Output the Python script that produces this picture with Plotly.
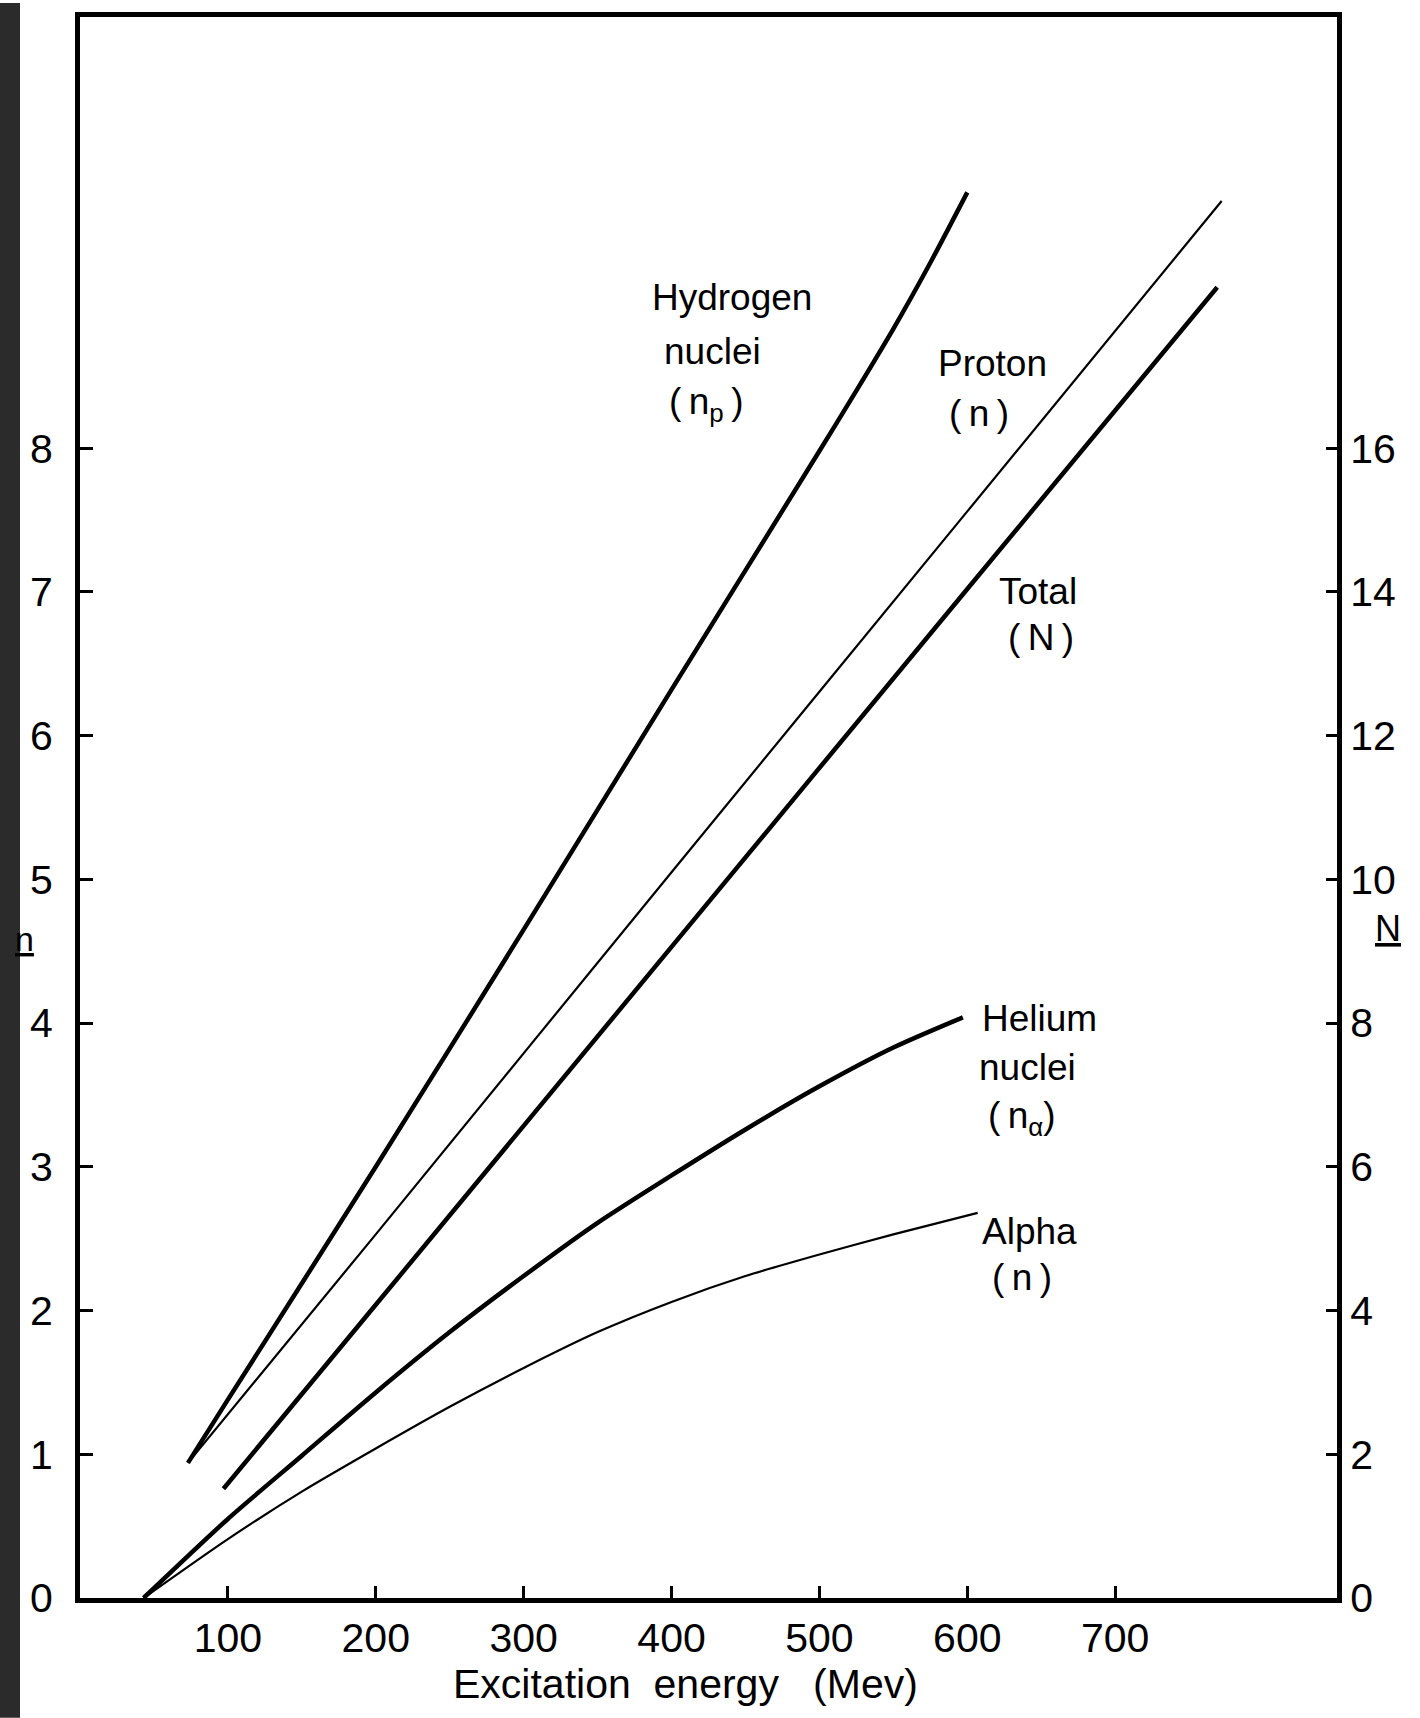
import plotly.graph_objects as go

# ---------------- data ----------------
# Excitation energy (MeV) and multiplicities
hydrogen_e = [73, 100, 200, 300, 400, 500, 525, 550, 575, 600]
hydrogen_n = [0.94, 1.38, 3.0, 4.65, 6.32, 7.98, 8.40, 8.83, 9.29, 9.78]

proton_e = [73, 200, 400, 600, 772]
proton_n = [0.94, 2.53, 5.05, 7.56, 9.72]

total_e = [97, 200, 400, 600, 769]
total_N = [1.52, 4.08, 9.06, 14.04, 18.24]   # read on the right-hand N axis

helium_e = [43, 100, 150, 200, 250, 300, 350, 400, 450, 500, 550, 597]
helium_n = [0.0, 0.55, 0.99, 1.43, 1.85, 2.24, 2.61, 2.94, 3.26, 3.56, 3.83, 4.04]

alpha_e = [43, 100, 150, 200, 250, 300, 350, 400, 450, 500, 550, 607]
alpha_n = [0.0, 0.41, 0.74, 1.04, 1.33, 1.60, 1.85, 2.06, 2.24, 2.39, 2.53, 2.68]

x_ticks = [100, 200, 300, 400, 500, 600, 700]
n_ticks = [0, 1, 2, 3, 4, 5, 6, 7, 8]
N_ticks = [0, 2, 4, 6, 8, 10, 12, 14, 16]

x_title = "Excitation\u00a0 energy\u00a0\u00a0 (Mev)"

# curve labels: (text, energy, n)
labels = [
    ("Hydrogen", 441, 9.05),
    ("nuclei", 428, 8.67),
    ("(\u2009n<sub>p</sub>\u2009)", 423, 8.31),
    ("Proton", 617, 8.59),
    ("(\u2009n\u2009)", 608, 8.24),
    ("Total", 648, 7.00),
    ("(\u2009N\u2009)", 649.5, 6.68),
    ("Helium", 649, 4.03),
    ("nuclei", 641, 3.69),
    ("(\u2009n<sub>\u03b1</sub>)", 637, 3.34),
    ("Alpha", 642, 2.55),
    ("(\u2009n\u2009)", 637, 2.23),
]

FONT = "Liberation Sans"
THICK = 4.5
THIN = 2.2

fig = go.Figure()


def add_curve(x, y, width, name, axis="y"):
    fig.add_trace(go.Scatter(
        x=x, y=y, mode="lines", name=name, yaxis=axis,
        line=dict(color="black", width=width, shape="spline", smoothing=0.7),
        hoverinfo="x+y+name",
    ))


add_curve(hydrogen_e, hydrogen_n, THICK, "Hydrogen nuclei (n_p)")
add_curve(proton_e, proton_n, THIN, "Proton (n)")
add_curve(total_e, total_N, THICK, "Total (N)", axis="y2")
add_curve(helium_e, helium_n, THICK, "Helium nuclei (n_alpha)")
add_curve(alpha_e, alpha_n, THIN, "Alpha (n)")

annotations = []
for text, xe, yn in labels:
    annotations.append(dict(
        text=text, x=xe, y=yn, xref="x", yref="y",
        xanchor="center", yanchor="middle", showarrow=False,
        font=dict(family=FONT, size=37, color="black"),
    ))

# axis titles (underlined letters) and x title
annotations.append(dict(
    text="<u>n</u>", xref="paper", yref="paper",
    x=-(80 - 24) / 1257, y=(1598 - 938) / 1584, xanchor="center", yanchor="middle",
    showarrow=False, font=dict(family=FONT, size=34, color="black"),
))
annotations.append(dict(
    text="<u>N</u>", xref="paper", yref="paper",
    x=1.0 + (1388 - 1337) / 1257, y=(1598 - 927) / 1584,
    xanchor="center", yanchor="middle",
    showarrow=False, font=dict(family=FONT, size=36, color="black"),
))
annotations.append(dict(
    text=x_title, xref="paper", yref="paper",
    x=(685 - 80) / 1257, y=-(1684 - 1598) / 1584,
    xanchor="center", yanchor="middle", showarrow=False,
    font=dict(family=FONT, size=41, color="black"),
))

axis_common = dict(
    showgrid=False, zeroline=False, showline=True, linecolor="black",
    linewidth=5, ticks="inside", tickcolor="black", tickwidth=3,
    tickfont=dict(family=FONT, size=41, color="black"),
)

fig.update_layout(
    width=1420, height=1718,
    margin=dict(l=80, r=83, t=14, b=120),
    paper_bgcolor="white", plot_bgcolor="white",
    showlegend=False,
    font=dict(family=FONT, size=38, color="black"),
    xaxis=dict(
        range=[0, 850], tickvals=x_ticks, ticktext=[str(v) for v in x_ticks],
        ticklen=12, mirror=True, ticklabelstandoff=0, **axis_common,
    ),
    yaxis=dict(
        range=[0, 11], tickvals=n_ticks, ticktext=[str(v) for v in n_ticks],
        ticklen=13, ticklabelstandoff=14, **axis_common,
    ),
    yaxis2=dict(
        range=[0, 22], overlaying="y", side="right", tickvals=N_ticks,
        ticktext=[str(v) for v in N_ticks], ticklen=11,
        ticklabelstandoff=0, **axis_common,
    ),
    annotations=annotations,
    shapes=[dict(
        type="rect", xref="paper", yref="paper",
        x0=-80 / 1257, x1=-60 / 1257, y0=-120 / 1584, y1=1 + 14 / 1584,
        fillcolor="#2b2b2b", line=dict(width=0), layer="below",
    )],
)

fig.write_html(
    "out.html",
    config={"displayModeBar": False},
    post_script="document.body.style.margin='0';document.body.style.overflow='hidden';",
)
